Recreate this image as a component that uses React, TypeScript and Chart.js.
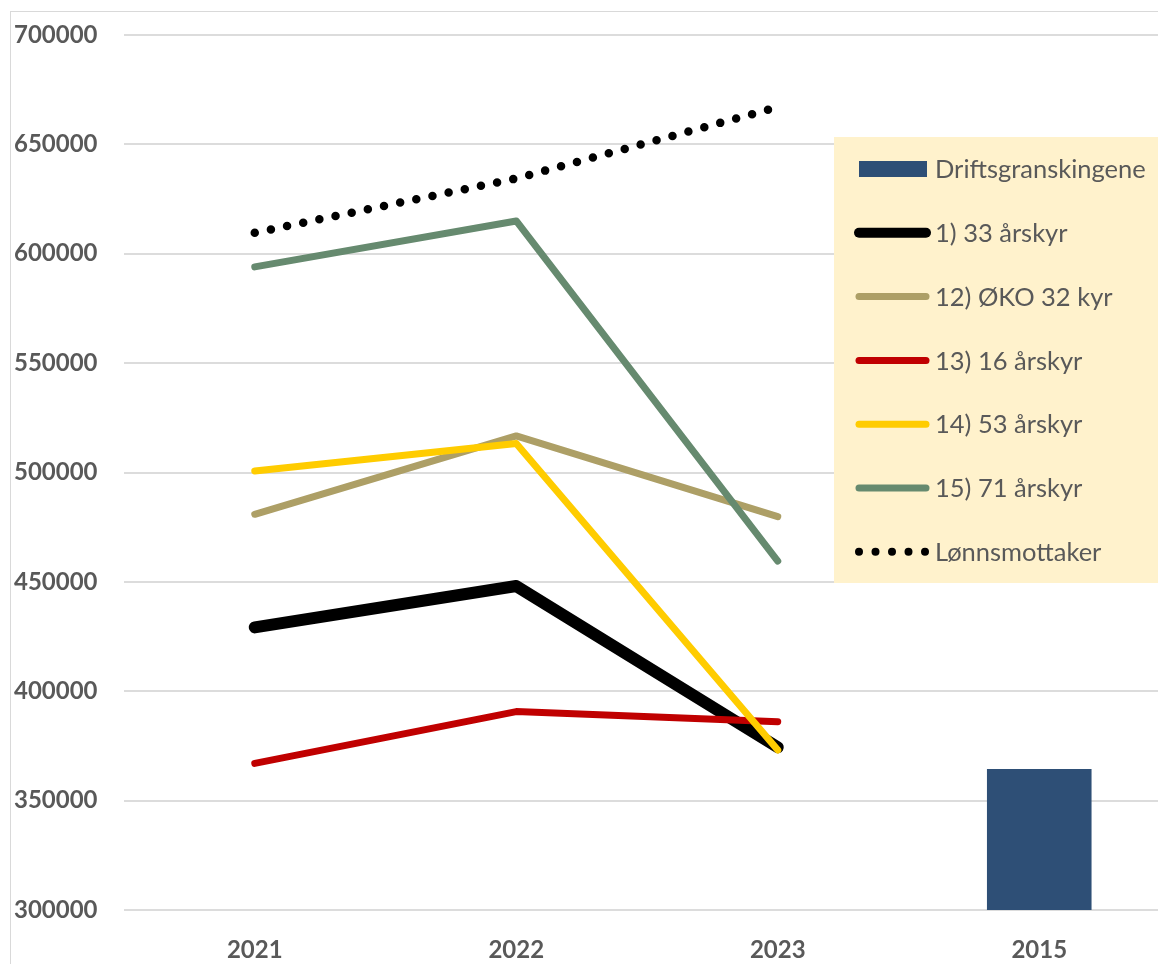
import React, { useEffect, useRef } from "react";
import { Chart, registerables } from "chart.js";

Chart.register(...registerables);

// ---- data ----
const categories = ["2021", "2022", "2023", "2015"];
const driftsgranskingene = [null, null, null, 364500];
const aarskyr33 = [429200, 448100, 374400, null];
const oko32 = [480900, 516700, 479800, null];
const aarskyr16 = [367000, 390700, 386100, null];
const aarskyr53 = [500700, 513300, 373100, null];
const aarskyr71 = [594000, 615000, 459500, null];
const lonnsmottaker = [609600, 634400, 667000, null];

const yMin = 300000;
const yMax = 700000;
const yStep = 50000;

const seriesLabels = [
  "Driftsgranskingene",
  "1) 33 årskyr",
  "12) ØKO 32 kyr",
  "13) 16 årskyr",
  "14) 53 årskyr",
  "15) 71 årskyr",
  "Lønnsmottaker",
];

const TEXT = "#595959";
const FONT = "Lato, 'Open Sans', sans-serif";

const framePlugin = {
  id: "frame",
  beforeDraw(chart: any) {
    const ctx = chart.ctx;
    ctx.save();
    ctx.fillStyle = "#ffffff";
    ctx.fillRect(0, 0, chart.width, chart.height);
    ctx.strokeStyle = "#D9D9D9";
    ctx.lineWidth = 1;
    ctx.strokeRect(10.5, 11.5, chart.width + 20, chart.height + 20);
    ctx.restore();
  },
};

const legendPlugin = {
  id: "boxLegend",
  afterDraw(chart: any) {
    const ctx = chart.ctx;
    const ds = chart.data.datasets;
    ctx.save();
    ctx.fillStyle = "#FFF2CC";
    ctx.fillRect(834, 137, chart.width, 446);
    const startY = 169;
    const gap = 63.8;
    ctx.font = `25.5px ${FONT}`;
    ctx.textBaseline = "middle";
    ctx.textAlign = "left";
    ds.forEach((d: any, i: number) => {
      const y = startY + i * gap;
      if (d.type === "bar") {
        ctx.fillStyle = d.backgroundColor;
        ctx.fillRect(859, y - 8, 68, 16);
      } else {
        ctx.strokeStyle = d.borderColor;
        ctx.lineCap = "round";
        const w = d.borderWidth;
        ctx.lineWidth = d.borderDash ? 8 : Math.min(w, 10);
        ctx.setLineDash(d.borderDash ? [0, 16.5] : []);
        ctx.beginPath();
        ctx.moveTo(859, y);
        ctx.lineTo(926, y);
        ctx.stroke();
        ctx.setLineDash([]);
      }
      ctx.fillStyle = TEXT;
      ctx.fillText(d.label, 935, y + 1);
    });
    ctx.restore();
  },
};

export default function App() {
  const ref = useRef<HTMLCanvasElement | null>(null);

  useEffect(() => {
    if (!ref.current) return;
    const lineDs = (label: string, data: any[], color: string, width: number, order: number, dash?: number[]) => ({
      type: "line" as const,
      label,
      data,
      borderColor: color,
      backgroundColor: color,
      borderWidth: width,
      borderCapStyle: "round",
      borderJoinStyle: "round",
      borderDash: dash,
      pointRadius: 0,
      pointHoverRadius: 0,
      fill: false,
      tension: 0,
      spanGaps: false,
      order,
    });

    const chart = new Chart(ref.current, {
      type: "bar",
      data: {
        labels: categories,
        datasets: [
          {
            type: "bar",
            label: seriesLabels[0],
            data: driftsgranskingene,
            backgroundColor: "#2E4F76",
            borderWidth: 0,
            categoryPercentage: 0.8,
            barPercentage: 0.5,
            order: 7,
          } as any,
          lineDs(seriesLabels[1], aarskyr33, "#000000", 12, 6),
          lineDs(seriesLabels[2], oko32, "#AD9F66", 7, 5),
          lineDs(seriesLabels[3], aarskyr16, "#C00000", 7, 4),
          lineDs(seriesLabels[4], aarskyr53, "#FFCC00", 7, 3),
          lineDs(seriesLabels[5], aarskyr71, "#668A6F", 7, 2),
          lineDs(seriesLabels[6], lonnsmottaker, "#000000", 8.5, 1, [0, 16.5]),
        ] as any,
      },
      options: {
        responsive: false,
        animation: false,
        devicePixelRatio: 1,
        layout: { padding: { top: 35, right: 20, bottom: 20, left: 14 } },
        plugins: {
          legend: { display: false },
          tooltip: { enabled: false },
        },
        scales: {
          x: {
            type: "category",
            offset: true,
            grid: { display: false },
            border: { display: false },
            ticks: {
              color: TEXT,
              font: { family: FONT, size: 24, weight: "bold" },
              padding: 18,
            },
            afterFit: (s: any) => {
              s.height = 60;
            },
          },
          y: {
            min: yMin,
            max: yMax,
            grid: { color: "#DCDCDC", lineWidth: 2, drawTicks: false },
            border: { display: false },
            ticks: {
              stepSize: yStep,
              color: TEXT,
              font: { family: FONT, size: 24, weight: "bold" },
              padding: 0,
              crossAlign: "far",
              callback: (v: any) => String(v),
            },
            afterFit: (s: any) => {
              s.width = 110;
            },
          },
        },
      } as any,
      plugins: [framePlugin, legendPlugin],
    });
    return () => chart.destroy();
  }, []);

  return (
    <div
      style={{
        position: "fixed",
        left: 0,
        top: 0,
        width: 1158,
        height: 964,
        overflow: "hidden",
        background: "#fff",
      }}
    >
      <canvas ref={ref} width={1190} height={990} style={{ display: "block", width: 1190, height: 990 }} />
    </div>
  );
}
